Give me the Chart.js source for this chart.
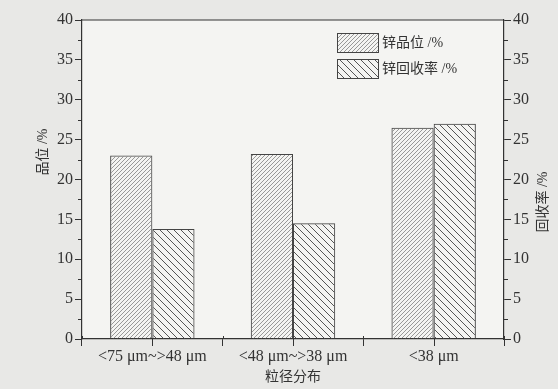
<!DOCTYPE html>
<html>
<head>
<meta charset="utf-8">
<script src="https://cdn.jsdelivr.net/npm/chart.js@4"></script>
<style>
  body { margin: 0; background: #e8e8e6; }
  canvas { display: block; }
</style>
</head>
<body>
<canvas id="chart" width="558" height="389"></canvas>
<script>
// data
let categories = ['<75 μm~>48 μm', '<48 μm~>38 μm', '<38 μm'];
let grade = [23.0, 23.2, 26.5];
let recovery = [13.8, 14.5, 27.0];
let yTicks = [0, 5, 10, 15, 20, 25, 30, 35, 40];

let serif = '"Liberation Serif", "Noto Sans CJK SC", serif';
let ink = '#333';

// hatch fill, "/" or "\"
let hatch = (size, dir, color, lw) => {
  let c = document.createElement('canvas');
  c.width = size; c.height = size;
  let g = c.getContext('2d');
  g.strokeStyle = color;
  g.lineWidth = lw;
  g.beginPath();
  if (dir === '/') {
    g.moveTo(0, size); g.lineTo(size, 0);
    g.moveTo(-1, 1); g.lineTo(1, -1);
    g.moveTo(size - 1, size + 1); g.lineTo(size + 1, size - 1);
  } else {
    g.moveTo(0, 0); g.lineTo(size, size);
    g.moveTo(size - 1, -1); g.lineTo(size + 1, 1);
    g.moveTo(-1, size - 1); g.lineTo(1, size + 1);
  }
  g.stroke();
  return document.getElementById('chart').getContext('2d').createPattern(c, 'repeat');
};

let gradeFill = hatch(4, '/', '#808080', 0.8);
let recFill = hatch(7, '\\', '#555', 1);

// background, frame, minor ticks, titles, legend
let decor = {
  id: 'decor',
  beforeDraw(chart) {
    let ctx = chart.ctx, a = chart.chartArea;
    ctx.save();
    ctx.fillStyle = '#e8e8e6';
    ctx.fillRect(0, 0, chart.width, chart.height);
    ctx.fillStyle = '#f4f4f2';
    ctx.fillRect(a.left, a.top, a.right - a.left, a.bottom - a.top);
    ctx.restore();
  },
  afterDraw(chart) {
    let ctx = chart.ctx, a = chart.chartArea;
    let y = chart.scales.y, y1 = chart.scales.y1, x = chart.scales.x;
    ctx.save();
    ctx.strokeStyle = ink;
    ctx.lineWidth = 1.2;
    ctx.beginPath();
    ctx.moveTo(a.left, a.top); ctx.lineTo(a.right, a.top);
    ctx.stroke();

    ctx.lineWidth = 1;
    ctx.beginPath();
    for (let v = 2.5; v < 40; v += 5) {
      let p = Math.round(y.getPixelForValue(v)) + 0.5;
      ctx.moveTo(a.left, p); ctx.lineTo(a.left - 4, p);
      let q = Math.round(y1.getPixelForValue(v)) + 0.5;
      ctx.moveTo(a.right, q); ctx.lineTo(a.right + 4, q);
    }
    // category centre ticks and small minor ticks
    categories.forEach((c, i) => {
      let cx = Math.round(x.getPixelForValue(i)) + 0.5;
      ctx.moveTo(cx, a.bottom); ctx.lineTo(cx, a.bottom + 7);
      [-0.25, 0.25].forEach(d => {
        let m = Math.round(x.getPixelForValue(i + d * 2)) + 0.5;
        ctx.moveTo(m, a.bottom); ctx.lineTo(m, a.bottom - 3);
      });
    });
    ctx.stroke();

    // axis titles
    ctx.fillStyle = ink;
    ctx.font = '14px ' + serif;
    ctx.textAlign = 'center';
    ctx.textBaseline = 'middle';
    ctx.fillText('粒径分布', (a.left + a.right) / 2, 377);
    ctx.save();
    ctx.translate(43, 152);
    ctx.rotate(-Math.PI / 2);
    ctx.fillText('品位 /%', 0, 0);
    ctx.restore();
    ctx.save();
    ctx.translate(543, 202);
    ctx.rotate(-Math.PI / 2);
    ctx.fillText('回收率 /%', 0, 0);
    ctx.restore();

    // legend
    let items = chart.data.datasets;
    ctx.textAlign = 'left';
    items.forEach((ds, i) => {
      let top = 33 + i * 26;
      ctx.fillStyle = ds.backgroundColor;
      ctx.fillRect(337, top, 41, 19);
      ctx.strokeStyle = '#444';
      ctx.lineWidth = 1;
      ctx.strokeRect(337.5, top + 0.5, 41, 19);
      ctx.fillStyle = ink;
      ctx.fillText(ds.label, 382, top + 10);
    });
    ctx.restore();
  }
};

let yAxis = (pos) => ({
  type: 'linear',
  position: pos,
  min: 0,
  max: 40,
  afterBuildTicks: (s) => { s.ticks = yTicks.map(v => ({ value: v })); },
  afterFit: (s) => { s.width = pos === 'left' ? 82 : 54; },
  grid: { display: true, drawOnChartArea: false, tickLength: 7, color: ink, lineWidth: 1 },
  border: { display: true, color: ink, width: 1.2 },
  ticks: { color: ink, padding: 2, font: { family: serif, size: 16 } }
});

document.addEventListener('DOMContentLoaded', function () {
  new Chart(document.getElementById('chart'), {
    type: 'bar',
    data: {
      labels: categories,
      datasets: [
        {
          label: '锌品位 /%',
          data: grade,
          yAxisID: 'y',
          backgroundColor: gradeFill,
          borderColor: '#444',
          borderWidth: 1
        },
        {
          label: '锌回收率 /%',
          data: recovery,
          yAxisID: 'y1',
          backgroundColor: recFill,
          borderColor: '#444',
          borderWidth: 1
        }
      ]
    },
    options: {
      responsive: false,
      animation: false,
      devicePixelRatio: 1,
      layout: { padding: { top: 20, left: 0, right: 0, bottom: 0 } },
      categoryPercentage: 0.6,
      barPercentage: 1.0,
      plugins: { legend: { display: false }, tooltip: { enabled: false } },
      scales: {
        x: {
          offset: true,
          afterFit: (s) => { s.height = 50; },
          grid: { display: true, drawOnChartArea: false, offset: true, tickLength: 7, color: ink },
          border: { display: true, color: ink, width: 1.2 },
          ticks: { color: ink, padding: 1, font: { family: serif, size: 16 } }
        },
        y: yAxis('left'),
        y1: yAxis('right')
      }
    },
    plugins: [decor]
  });
});
</script>
</body>
</html>
